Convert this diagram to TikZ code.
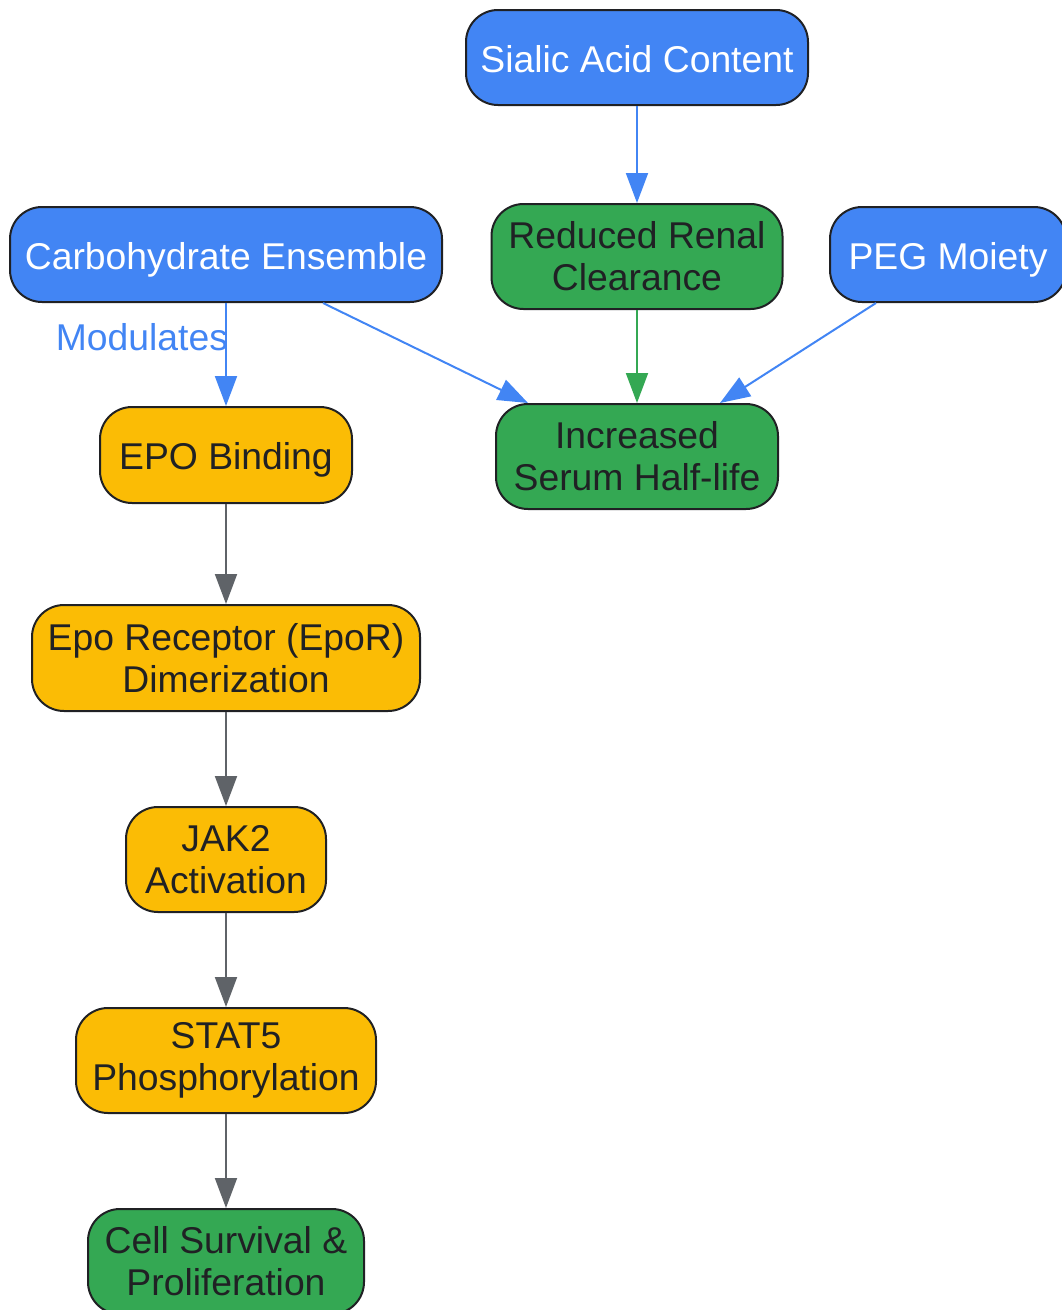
\documentclass[tikz,border=0pt]{standalone}
\usepackage{fontspec}
\setmainfont{Liberation Sans}
\usetikzlibrary{arrows.meta,calc}
\definecolor{gblue}{HTML}{4285F4}
\definecolor{ggreen}{HTML}{34A853}
\definecolor{gyellow}{HTML}{FBBC05}
\definecolor{ggray}{HTML}{5F6368}
\definecolor{edgec}{HTML}{202124}
\definecolor{darktext}{HTML}{202124}
\begin{document}
\begin{tikzpicture}[x=1pt,y=-1pt,
  box/.style={draw=edgec, line width=2pt, rounded corners=32pt, inner sep=0pt, align=center,
    font=\fontsize{37.3}{42}\selectfont},
  oneline/.style={text height=36pt, text depth=7pt},
  bluebox/.style={box, fill=gblue, text=white},
  greenbox/.style={box, fill=ggreen, text=darktext},
  yellowbox/.style={box, fill=gyellow, text=darktext},
  arr/.style={line width=2pt, -{Triangle[length=30pt,width=22pt]}},
  bluearr/.style={arr, draw=gblue, fill=gblue},
  greenarr/.style={arr, draw=ggreen, fill=ggreen},
  grayarr/.style={arr, draw=ggray, fill=ggray},
]
\useasboundingbox (0,0) rectangle (1062,1310);

\node[bluebox, oneline, minimum width=342pt, minimum height=95pt] (sialic) at (637,57.5) {Sialic Acid Content};
\node[bluebox, oneline, minimum width=432pt, minimum height=95pt] (carb) at (226,254.5) {Carbohydrate Ensemble};
\node[greenbox, minimum width=291pt, minimum height=105pt] (renal) at (637,256.5) {Reduced Renal\\Clearance};
\node[bluebox, oneline, minimum width=236pt, minimum height=95pt] (peg) at (948,254.5) {PEG Moiety};
\node[greenbox, minimum width=282pt, minimum height=105pt] (inc) at (637,456.5) {Increased\\Serum Half-life};
\node[yellowbox, oneline, minimum width=252pt, minimum height=96pt] (epo) at (226,455) {EPO Binding};
\node[yellowbox, minimum width=388pt, minimum height=106pt] (epor) at (226,658) {Epo Receptor (EpoR)\\Dimerization};
\node[yellowbox, minimum width=200pt, minimum height=105pt] (jak) at (226,859.5) {JAK2\\Activation};
\node[yellowbox, minimum width=300pt, minimum height=105pt] (stat) at (226,1060.5) {STAT5\\Phosphorylation};
\node[greenbox, minimum width=276pt, minimum height=105pt] (cell) at (226,1261.5) {Cell Survival \&\\Proliferation};

\draw[bluearr] (sialic.south) -- (renal.north);
\draw[bluearr] (carb.south) -- node[pos=0.33, anchor=east, inner sep=0pt, xshift=3pt, text=gblue,
  font=\fontsize{37.3}{42}\selectfont] (modlbl) {Modulates} (epo.north);
\draw[bluearr] ($(carb.south)+(97,0)$) -- ($(inc.north)+(-109,0)$);
\draw[greenarr] (renal.south) -- (inc.north);
\draw[bluearr] ($(peg.south)+(-72,0)$) -- ($(inc.north)+(83,0)$);
\draw[grayarr] (epo.south) -- (epor.north);
\draw[grayarr] (epor.south) -- (jak.north);
\draw[grayarr] (jak.south) -- (stat.north);
\draw[grayarr] (stat.south) -- (cell.north);
\end{tikzpicture}
\end{document}
